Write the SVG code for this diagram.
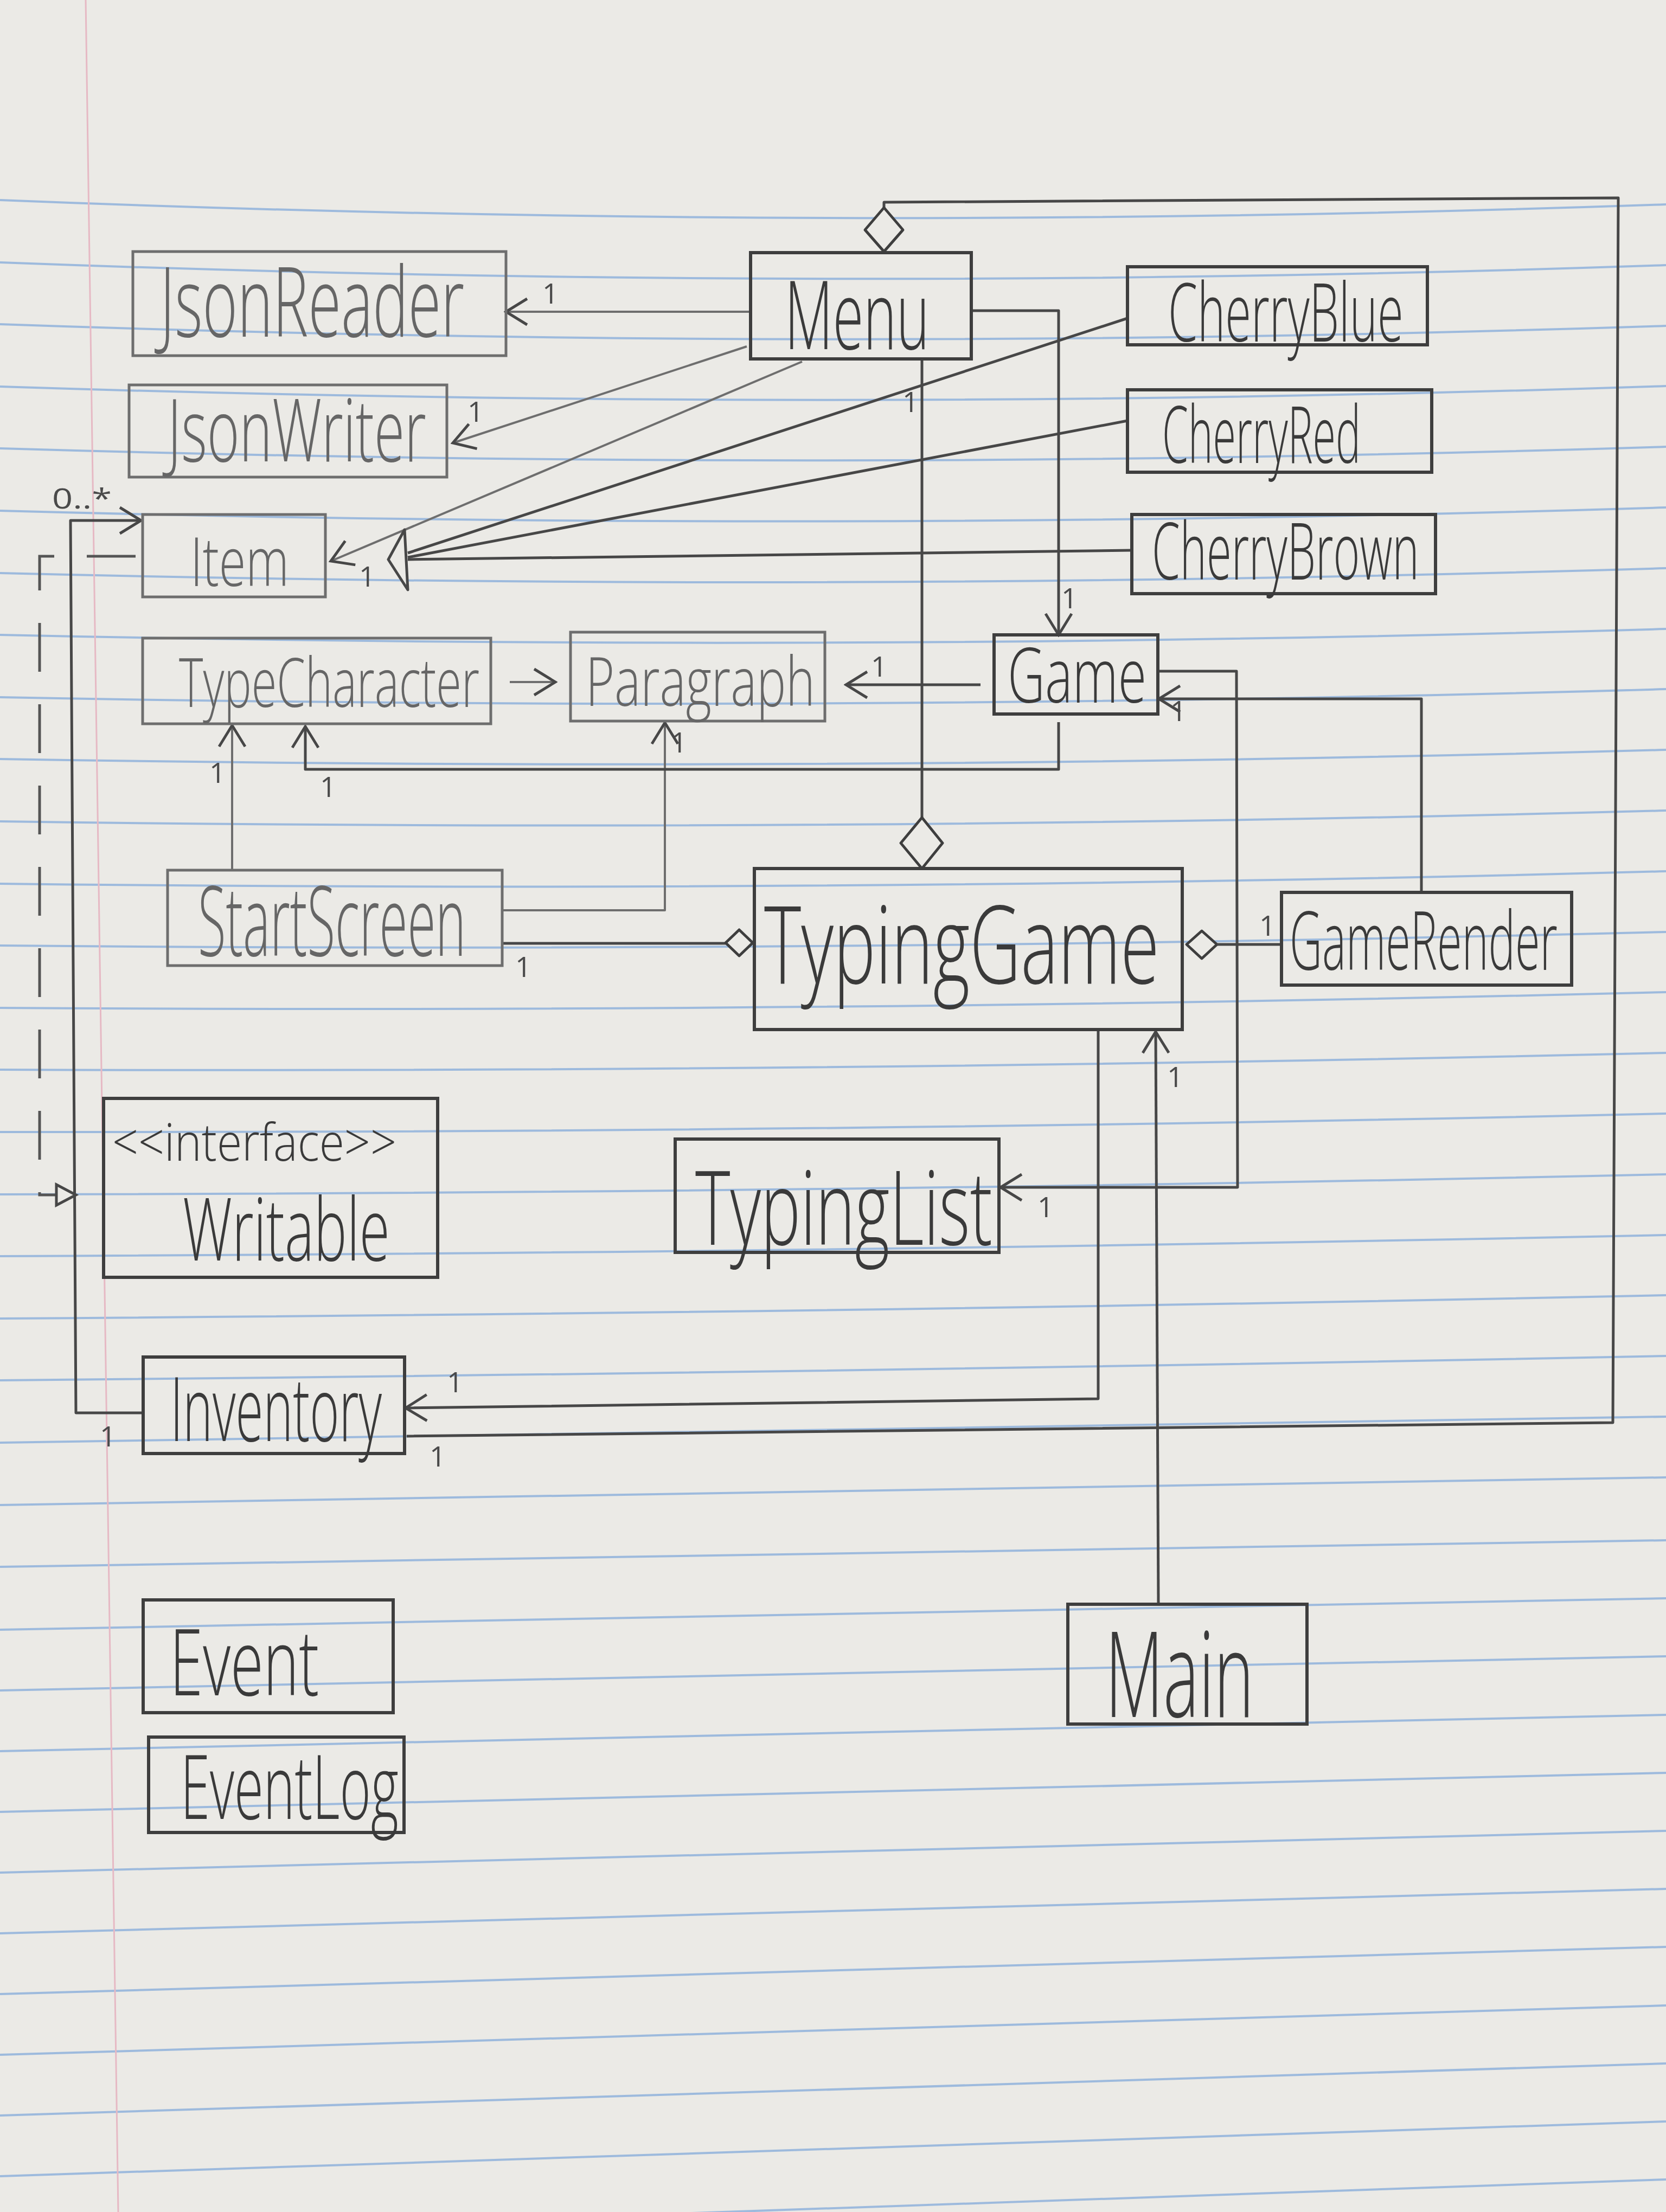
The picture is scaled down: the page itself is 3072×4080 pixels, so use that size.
<svg xmlns="http://www.w3.org/2000/svg" width="3072" height="4080" viewBox="0 0 3072 4080">
<style>
.paper{fill:#ebeae6}
.rule{fill:none;stroke:#8fb2da;stroke-width:4;opacity:.85}
.margin{fill:none;stroke:#e6b9c4;stroke-width:3}
.box{fill:none;stroke:#3e3e3e;stroke-width:6}
.lbox{fill:none;stroke:#6e6e6e;stroke-width:5}
.t{font-family:"Open Sans","Liberation Sans",sans-serif;font-weight:300;fill:#3a3a3a}
.lt{font-family:"Open Sans","Liberation Sans",sans-serif;font-weight:300;fill:#666}
.m{font-family:"Open Sans","Liberation Sans",sans-serif;font-size:52px;fill:#4a4a4a}
.c{fill:none;stroke:#474747;stroke-width:5;stroke-linejoin:round}
.lc{fill:none;stroke:#6e6e6e;stroke-width:4;stroke-linejoin:round}
.d{fill:none;stroke:#555;stroke-width:5;stroke-dasharray:90 60}
.dia{fill:#ebeae6;stroke:#3e3e3e;stroke-width:5;stroke-linejoin:round}
</style>
<defs>
<marker id="open" markerUnits="userSpaceOnUse" markerWidth="46" markerHeight="56" refX="42" refY="28" orient="auto">
<path d="M3,4 L42,28 L3,52" fill="none" stroke="#474747" stroke-width="5"/>
</marker>
<marker id="tri" markerUnits="userSpaceOnUse" markerWidth="46" markerHeight="46" refX="40" refY="23" orient="auto">
<path d="M4,4 L40,23 L4,42 Z" fill="#ebeae6" stroke="#474747" stroke-width="5"/>
</marker>
</defs>
<g id="background">
<rect class="paper" x="0" y="0" width="3072" height="4080"/>
<path class="rule" d="M0,369 Q1536,431 3072,377"/>
<path class="rule" d="M0,484 Q1536,542 3072,489"/>
<path class="rule" d="M0,598 Q1536,652 3072,601"/>
<path class="rule" d="M0,713 Q1536,763 3072,712"/>
<path class="rule" d="M0,827 Q1536,873 3072,824"/>
<path class="rule" d="M0,942 Q1536,984 3072,936"/>
<path class="rule" d="M0,1057 Q1536,1095 3072,1048"/>
<path class="rule" d="M0,1171 Q1536,1205 3072,1160"/>
<path class="rule" d="M0,1286 Q1536,1316 3072,1271"/>
<path class="rule" d="M0,1400 Q1536,1426 3072,1383"/>
<path class="rule" d="M0,1515 Q1536,1537 3072,1495"/>
<path class="rule" d="M0,1630 Q1536,1648 3072,1607"/>
<path class="rule" d="M0,1744 Q1536,1758 3072,1719"/>
<path class="rule" d="M0,1859 Q1536,1869 3072,1830"/>
<path class="rule" d="M0,1973 Q1536,1979 3072,1942"/>
<path class="rule" d="M0,2088 Q1536,2090 3072,2054"/>
<path class="rule" d="M0,2203 Q1536,2201 3072,2166"/>
<path class="rule" d="M0,2317 Q1536,2311 3072,2278"/>
<path class="rule" d="M0,2432 Q1536,2422 3072,2389"/>
<path class="rule" d="M0,2546 Q1536,2532 3072,2501"/>
<path class="rule" d="M0,2661 Q1536,2643 3072,2613"/>
<path class="rule" d="M0,2776 Q1536,2754 3072,2725"/>
<path class="rule" d="M0,2890 Q1536,2867 3072,2841"/>
<path class="rule" d="M0,3006 Q1536,2977 3072,2948"/>
<path class="rule" d="M0,3118 Q1536,3087 3072,3055"/>
<path class="rule" d="M0,3230 Q1536,3196 3072,3163"/>
<path class="rule" d="M0,3342 Q1536,3306 3072,3270"/>
<path class="rule" d="M0,3454 Q1536,3416 3072,3377"/>
<path class="rule" d="M0,3566 Q1536,3525 3072,3484"/>
<path class="rule" d="M0,3678 Q1536,3635 3072,3591"/>
<path class="rule" d="M0,3790 Q1536,3744 3072,3699"/>
<path class="rule" d="M0,3902 Q1536,3854 3072,3806"/>
<path class="rule" d="M0,4014 Q1536,3964 3072,3913"/>
<path class="rule" d="M0,4126 Q1536,4073 3072,4020"/>
<path class="margin" d="M158,0 L218,4080"/>
</g>
<g id="connectors">
<path class="lc" d="M1384,575 L933,575" marker-end="url(#open)"/>
<path class="lc" d="M1377,639 L835,817" marker-end="url(#open)"/>
<path class="lc" d="M1479,667 L610,1035" marker-end="url(#open)"/>
<path class="c" d="M2079,587 L752,1020"/>
<path class="c" d="M2079,776 L752,1028"/>
<path class="c" d="M2087,1015 L752,1032"/>
<polygon points="716,1032 746,977 752,1088" fill="#ebeae6" stroke="#474747" stroke-width="5" stroke-linejoin="round"/>
<path class="c" d="M1791,573 L1952,573 L1952,1171" marker-end="url(#open)"/>
<path class="c" d="M1700,662 L1700,1508"/>
<polygon class="dia" points="1700,1508 1738,1555 1700,1602 1661,1555"/>
<path class="c" d="M1630,383 L1630,373 L2984,365 L2974,2624 L750,2649"/>
<polygon class="dia" points="1630,383 1665,424 1630,464 1595,424"/>
<path class="lc" d="M940,1258 L1024,1258" marker-end="url(#open)"/>
<path class="c" d="M1808,1263 L1560,1263" marker-end="url(#open)"/>
<path class="lc" d="M428,1605 L428,1338" marker-end="url(#open)"/>
<path class="lc" d="M926,1679 L1226,1679 L1226,1333" marker-end="url(#open)"/>
<path class="c" d="M1952,1332 L1952,1419 L563,1419 L563,1340" marker-end="url(#open)"/>
<path class="c" d="M926,1740 L1338,1740"/>
<polygon class="dia" points="1338,1739 1363,1715 1388,1739 1363,1763"/>
<polygon class="dia" points="2188,1742 2216,1717 2244,1742 2216,1768"/>
<path class="c" d="M2244,1742 L2363,1742"/>
<path class="c" d="M2621,1646 L2621,1289 L2137,1289" marker-end="url(#open)"/>
<path class="c" d="M2137,1238 L2280,1238 L2282,2190 L1845,2190" marker-end="url(#open)"/>
<path class="c" d="M2025,1899 L2025,2580 L748,2597" marker-end="url(#open)"/>
<path class="c" d="M2136,2959 L2131,1903" marker-end="url(#open)"/>
<path class="c" d="M262,2606 L140,2606 L130,960 L260,960" marker-end="url(#open)"/>
<path class="d" d="M250,1026 L73,1026 L73,2204 L140,2204" marker-end="url(#tri)"/>
</g>
<g id="labels">
<text class="m" x="1000" y="560">1</text>
<text class="m" x="862" y="778">1</text>
<text class="m" x="662" y="1082">1</text>
<text class="m" x="1606" y="1248">1</text>
<text class="m" x="1957" y="1122">1</text>
<text class="m" x="1664" y="760">1</text>
<text class="m" x="386" y="1444">1</text>
<text class="m" x="590" y="1470">1</text>
<text class="m" x="1237" y="1388">1</text>
<text class="m" x="950" y="1802">1</text>
<text class="m" x="2322" y="1726">1</text>
<text class="m" x="2158" y="1330">1</text>
<text class="m" x="1913" y="2245">1</text>
<text class="m" x="2152" y="2005">1</text>
<text class="m" x="824" y="2568">1</text>
<text class="m" x="792" y="2705">1</text>
<text class="m" x="184" y="2668">1</text>
<text class="m" x="96" y="938" textLength="110" lengthAdjust="spacingAndGlyphs">0..*</text>
</g>
<g id="JsonReader"><rect class="lbox" x="245" y="464" width="688" height="192"/><text class="lt" font-size="180" transform="translate(295,621) scale(0.608,1)" textLength="923" lengthAdjust="spacingAndGlyphs">JsonReader</text></g>
<g id="JsonWriter"><rect class="lbox" x="238" y="710" width="586" height="170"/><text class="lt" font-size="160" transform="translate(309,851) scale(0.634,1)" textLength="752" lengthAdjust="spacingAndGlyphs">JsonWriter</text></g>
<g id="Item"><rect class="lbox" x="263" y="949" width="337" height="152"/><text class="lt" font-size="125" transform="translate(351,1081) scale(0.70,1)" textLength="260" lengthAdjust="spacingAndGlyphs">Item</text></g>
<g id="Menu"><rect class="box" x="1384" y="466" width="407" height="196"/><text class="t" font-size="175" transform="translate(1447,644) scale(0.585,1)" textLength="456" lengthAdjust="spacingAndGlyphs">Menu</text></g>
<g id="CherryBlue"><rect class="box" x="2079" y="492" width="553" height="144"/><text class="t" font-size="150" transform="translate(2154,630) scale(0.573,1)" textLength="757" lengthAdjust="spacingAndGlyphs">CherryBlue</text></g>
<g id="CherryRed"><rect class="box" x="2079" y="719" width="561" height="152"/><text class="t" font-size="145" transform="translate(2143,854) scale(0.529,1)" textLength="692" lengthAdjust="spacingAndGlyphs">CherryRed</text></g>
<g id="CherryBrown"><rect class="box" x="2087" y="949" width="560" height="146"/><text class="t" font-size="145" transform="translate(2124,1069) scale(0.567,1)" textLength="869" lengthAdjust="spacingAndGlyphs">CherryBrown</text></g>
<g id="TypeCharacter"><rect class="lbox" x="263" y="1177" width="642" height="158"/><text class="lt" font-size="125" transform="translate(330,1304) scale(0.673,1)" textLength="823" lengthAdjust="spacingAndGlyphs">TypeCharacter</text></g>
<g id="Paragraph"><rect class="lbox" x="1052" y="1166" width="469" height="164"/><text class="lt" font-size="125" transform="translate(1080,1302) scale(0.718,1)" textLength="589" lengthAdjust="spacingAndGlyphs">Paragraph</text></g>
<g id="Game"><rect class="box" x="1833" y="1171" width="302" height="146"/><text class="t" font-size="140" transform="translate(1858,1296) scale(0.681,1)" textLength="376" lengthAdjust="spacingAndGlyphs">Game</text></g>
<g id="StartScreen"><rect class="lbox" x="309" y="1605" width="617" height="176"/><text class="lt" font-size="180" transform="translate(365,1763) scale(0.525,1)" textLength="941" lengthAdjust="spacingAndGlyphs">StartScreen</text></g>
<g id="TypingGame"><rect class="box" x="1391" y="1602" width="789" height="297"/><text class="t" font-size="200" transform="translate(1409,1814) scale(0.642,1)" textLength="1135" lengthAdjust="spacingAndGlyphs">TypingGame</text></g>
<g id="GameRender"><rect class="box" x="2363" y="1646" width="535" height="171"/><text class="t" font-size="150" transform="translate(2378,1789) scale(0.553,1)" textLength="893" lengthAdjust="spacingAndGlyphs">GameRender</text></g>
<g id="TypingList"><rect class="box" x="1245" y="2101" width="597" height="209"/><text class="t" font-size="190" transform="translate(1282,2296) scale(0.634,1)" textLength="864" lengthAdjust="spacingAndGlyphs">TypingList</text></g>
<g id="Writable"><rect class="box" x="191" y="2026" width="616" height="330"/><text class="t" font-size="95" transform="translate(207,2141) scale(0.888,1)" textLength="590" lengthAdjust="spacingAndGlyphs">&lt;&lt;interface&gt;&gt;</text><text class="t" font-size="160" transform="translate(337,2325) scale(0.630,1)" textLength="606" lengthAdjust="spacingAndGlyphs">Writable</text></g>
<g id="Inventory"><rect class="box" x="264" y="2503" width="482" height="178"/><text class="t" font-size="165" transform="translate(314,2658) scale(0.547,1)" textLength="713" lengthAdjust="spacingAndGlyphs">Inventory</text></g>
<g id="Event"><rect class="box" x="264" y="2951" width="461" height="208"/><text class="t" font-size="170" transform="translate(313,3127) scale(0.646,1)" textLength="426" lengthAdjust="spacingAndGlyphs">Event</text></g>
<g id="EventLog"><rect class="box" x="274" y="3204" width="471" height="176"/><text class="t" font-size="165" transform="translate(333,3355) scale(0.590,1)" textLength="681" lengthAdjust="spacingAndGlyphs">EventLog</text></g>
<g id="Main"><rect class="box" x="1969" y="2959" width="441" height="221"/><text class="t" font-size="220" transform="translate(2038,3167) scale(0.551,1)" textLength="497" lengthAdjust="spacingAndGlyphs">Main</text></g>
</svg>
